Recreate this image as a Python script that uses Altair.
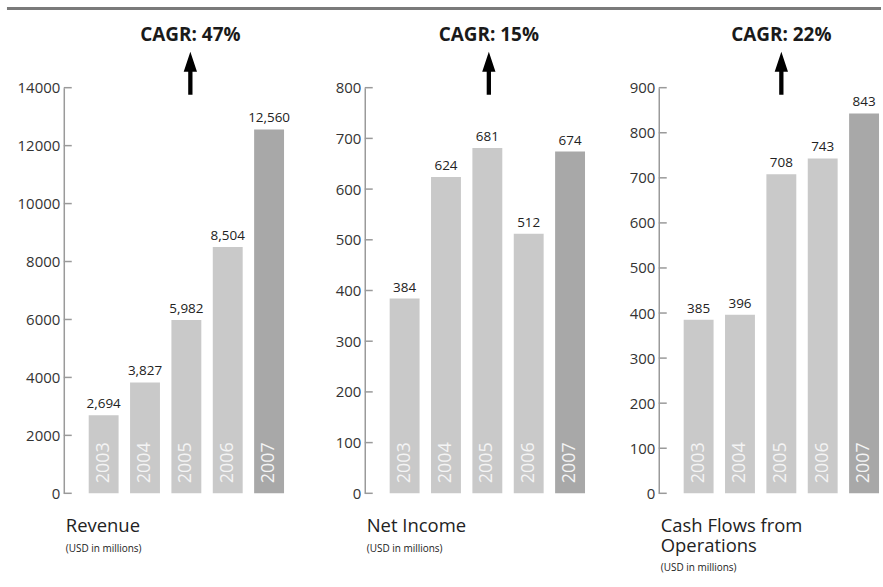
import altair as alt
import pandas as pd

years = ["2003", "2004", "2005", "2006", "2007"]
revenue = [2694, 3827, 5982, 8504, 12560]
net_income = [384, 624, 681, 512, 674]
cash_flows = [385, 396, 708, 743, 843]

revenue_ticks = [0, 2000, 4000, 6000, 8000, 10000, 12000, 14000]
net_income_ticks = [0, 100, 200, 300, 400, 500, 600, 700, 800]
cash_flow_ticks = [0, 100, 200, 300, 400, 500, 600, 700, 800, 900]

cagr_labels = ["CAGR: 47%", "CAGR: 15%", "CAGR: 22%"]
titles = ["Revenue", "Net Income", "Cash Flows from\nOperations"]
subtitle = "(USD in millions)"
bar_colors = ["#c9c9c9", "#c9c9c9", "#c9c9c9", "#c9c9c9", "#a8a8a8"]

FONT = "Open Sans"
H = 407
ARROW = "M0,-1 L0.31,-0.07 L0.1,-0.07 L0.1,1 L-0.1,1 L-0.1,-0.07 L-0.31,-0.07 Z"


def panel(values, ticks, title, cagr, cagr_x, width, top_rule=False):
    df = pd.DataFrame({"year": years, "value": values})
    y_scale = alt.Scale(domain=[0, ticks[-1]], nice=False, zero=True)
    x_enc = alt.X(
        "year:N",
        scale=alt.Scale(domain=years, range=[25, 221], paddingInner=0.277, paddingOuter=0),
        axis=None,
    )
    base = alt.Chart(df)
    bars = base.mark_bar().encode(
        x=x_enc,
        y=alt.Y(
            "value:Q",
            scale=y_scale,
            axis=alt.Axis(
                values=ticks, format="d", title=None, grid=False, ticks=False,
                domainColor="#9a9a9a", domainWidth=1.5, labelFontSize=15,
                labelColor="#333333", labelPadding=4, labelFont=FONT,
            ),
        ),
        color=alt.Color("year:N", scale=alt.Scale(domain=years, range=bar_colors), legend=None),
    )
    value_labels = base.mark_text(
        baseline="alphabetic", dy=-7, fontSize=13.5, color="#222222", font=FONT
    ).encode(x=x_enc, y=alt.Y("value:Q", scale=y_scale), text=alt.Text("value:Q", format=","))
    year_labels = base.mark_text(
        angle=270, align="left", baseline="middle", fontSize=18, color="#f4f4f4", font=FONT
    ).encode(x=x_enc, y=alt.value(H - 10), text="year:N")
    tick_rules = alt.Chart(pd.DataFrame({"tick": ticks})).mark_rule(
        color="#9a9a9a", strokeWidth=1.5
    ).encode(y=alt.Y("tick:Q", scale=y_scale), x=alt.value(0), x2=alt.value(8))

    one = alt.Chart(pd.DataFrame({"t": [cagr]}))
    cagr_text = one.mark_text(
        fontWeight="bold", fontSize=19, color="#1a1a1a", baseline="middle", font=FONT
    ).encode(x=alt.value(cagr_x), y=alt.value(-53), text="t:N")
    arrow = one.mark_point(
        shape=ARROW, size=1849, filled=True, color="black", opacity=1, strokeWidth=0
    ).encode(x=alt.value(cagr_x), y=alt.value(-14.5))

    title_df = pd.DataFrame({"t": [title]})
    nlines = title.count("\n") + 1
    title_text = alt.Chart(title_df).mark_text(
        align="left", baseline="alphabetic", fontSize=18.5, lineBreak="\n",
        lineHeight=20, color="#222222", font=FONT
    ).encode(x=alt.value(2), y=alt.value(446), text="t:N")
    sub_text = alt.Chart(pd.DataFrame({"t": [subtitle]})).mark_text(
        align="left", baseline="alphabetic", fontSize=10, color="#222222", font=FONT
    ).encode(x=alt.value(2), y=alt.value(446 + 19.5 * nlines), text="t:N")

    layers = [bars, tick_rules, value_labels, year_labels, cagr_text, arrow, title_text, sub_text]
    if top_rule:
        rule = alt.Chart(pd.DataFrame({"a": [0]})).mark_rule(
            color="#7a7a7a", strokeWidth=3
        ).encode(x=alt.value(-57), x2=alt.value(820), y=alt.value(-79.5))
        layers.append(rule)
    return alt.layer(*layers).properties(width=width, height=H)


p1 = panel(revenue, revenue_ticks, titles[0], cagr_labels[0], 127, 302, top_rule=True)
p2 = panel(net_income, net_income_ticks, titles[1], cagr_labels[1], 124.5, 295)
p3 = panel(cash_flows, cash_flow_ticks, titles[2], cagr_labels[2], 123, 223)

chart = (
    alt.hconcat(p1, p2, p3, spacing=0, bounds="flush")
    .properties(padding={"left": 5, "top": 6, "right": 0, "bottom": 5}, background="white")
    .configure(font=FONT)
    .configure_view(stroke=None)
)

chart.save("out.html", embed_options={"renderer": "svg", "actions": False})
